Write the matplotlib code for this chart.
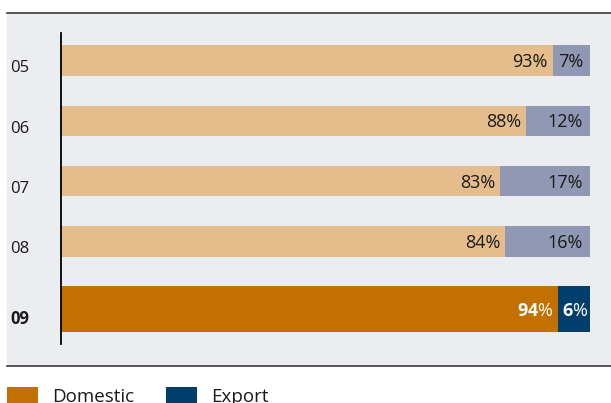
import matplotlib.pyplot as plt
from matplotlib.patches import Rectangle
from matplotlib.lines import Line2D
from matplotlib.transforms import blended_transform_factory, offset_copy

plt.rcParams["font.family"] = ["Open Sans", "DejaVu Sans"]
plt.rcParams["mathtext.fontset"] = "custom"
plt.rcParams["mathtext.rm"] = "Open Sans"
plt.rcParams["mathtext.bf"] = "Open Sans:bold"

# data
years = ["05", "06", "07", "08", "09"]
domestic = [93, 88, 83, 84, 94]
export = [7, 12, 17, 16, 6]

C_DOM_LIGHT = "#E5BD8C"
C_EXP_LIGHT = "#9198B3"
C_DOM = "#C27000"
C_EXP = "#003F6B"
BG = "#ECEDF1"

W, H = 611, 403
fig = plt.figure(figsize=(W / 100, H / 100), dpi=100)

# grey panel with rules top and bottom (pixel coords from top)
def fy(p):
    return 1 - p / H

fig.patches.append(Rectangle((7 / W, fy(366)), 1 - 7 / W, (366 - 12.5) / H,
                             transform=fig.transFigure, facecolor=BG,
                             edgecolor="none", zorder=-1))
for p in (12.5, 366):
    fig.lines.append(Line2D([7 / W, 1], [fy(p), fy(p)], transform=fig.transFigure,
                            color="#3a3a3a", lw=1.2))

ax = fig.add_axes([60.5 / W, fy(344), (590 - 60.5) / W, (344 - 33) / H])
ax.set_zorder(2)
ax.set_facecolor("none")
for s in ("top", "right", "bottom"):
    ax.spines[s].set_visible(False)
ax.spines["left"].set_linewidth(1.3)
ax.spines["left"].set_color("black")
ax.set_xticks([])
ax.set_yticks([])
ax.set_xlim(0, 100)

# row layout: step 1 per row, last row taller
h_reg, h_last, gap = 0.506, 0.763, 0.494
ypos = [0, 1, 2, 3, 3 + h_reg / 2 + gap + h_last / 2]
heights = [h_reg] * 4 + [h_last]
ax.set_ylim(4.701, -0.456)

bt = blended_transform_factory(fig.transFigure, ax.transData)
for i, (yr, d, e) in enumerate(zip(years, domestic, export)):
    last = i == len(years) - 1
    cd = C_DOM if last else C_DOM_LIGHT
    ce = C_EXP if last else C_EXP_LIGHT
    ax.barh(ypos[i], d, height=heights[i], color=cd, left=0)
    ax.barh(ypos[i], e, height=heights[i], color=ce, left=d)
    tcol = "white" if last else "#1a1a1a"
    tr_d = offset_copy(ax.transData, fig=fig, x=-5, y=-1.5, units="dots")
    tr_e = offset_copy(ax.transData, fig=fig, x=-2 if last else -7, y=-1.5,
                       units="dots")
    if last:
        sd = r"$\mathbf{%d}$%%" % d
        se = r"$\mathbf{%d}$%%" % e
    else:
        sd = f"{d}%"
        se = f"{e}%"
    ax.text(d, ypos[i], sd, ha="right", va="center", fontsize=13,
            color=tcol, transform=tr_d)
    ax.text(d + e, ypos[i], se, ha="right", va="center", fontsize=13,
            color=tcol, transform=tr_e)
    off = 0.15 if last else 0.13
    ax.text(10 / W, ypos[i] + off, yr, ha="left", va="center", fontsize=12,
            color="#1a1a1a", fontweight="bold" if last else "normal",
            transform=bt, clip_on=False)

# legend
for x0, col, lab in ((7, C_DOM, "Domestic"), (166, C_EXP, "Export")):
    fig.patches.append(Rectangle((x0 / W, 0), 31 / W, (403 - 387) / H,
                                 transform=fig.transFigure, facecolor=col,
                                 edgecolor="none"))
    fig.text((x0 + 45) / W, fy(397), lab, ha="left", va="center", fontsize=13.5,
             color="#1a1a1a")

fig.savefig("out.png", dpi=100)
